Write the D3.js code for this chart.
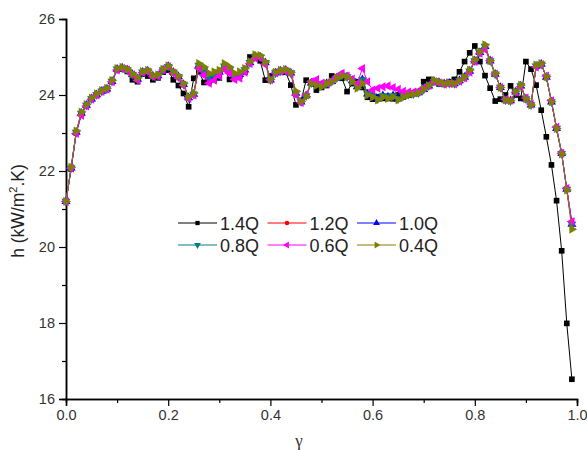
<!DOCTYPE html>
<html><head><meta charset="utf-8">
<script src="https://cdn.jsdelivr.net/npm/d3@7"></script>
<style>html,body{margin:0;padding:0;background:#fff;}svg{display:block;}</style>
</head><body>
<svg id="chart" width="587" height="450"></svg>
<script>
// gamma values 0.00 .. 0.99
const gammaVals = d3.range(100).map(i => i / 100);

const h14 = [21.2,22.05,23.0,23.5,23.72,23.9,24.0,24.1,24.15,24.35,
24.66,24.68,24.62,24.4,24.35,24.55,24.5,24.4,24.45,24.6,
24.65,24.4,24.25,24.04,23.69,24.44,24.61,24.33,24.35,24.4,
24.45,24.7,24.41,24.45,24.5,24.6,25.0,24.98,24.9,24.39,
24.5,24.61,24.62,24.6,24.26,23.74,23.85,24.39,24.3,24.13,
24.2,24.25,24.5,24.48,24.44,24.09,24.3,24.35,24.2,23.94,
23.89,23.95,23.91,23.91,23.9,24.0,23.95,24.0,24.05,24.09,
24.35,24.41,24.35,24.29,24.3,24.35,24.41,24.61,24.88,25.11,
25.29,24.88,24.51,24.18,23.84,23.89,24.0,24.24,24.0,23.91,
24.88,24.68,24.26,23.6,22.9,22.16,21.22,19.9,17.99,16.52];

const h12 = [21.2,22.08,23.02,23.52,23.73,23.9,24.01,24.1,24.16,24.36,
24.68,24.71,24.66,24.54,24.42,24.6,24.63,24.5,24.51,24.66,
24.75,24.6,24.48,24.28,23.93,24.02,24.78,24.65,24.47,24.52,
24.6,24.76,24.66,24.5,24.54,24.66,24.85,25.02,25.0,24.85,
24.4,24.58,24.63,24.65,24.58,24.05,23.82,23.98,24.32,24.3,
24.25,24.3,24.36,24.45,24.52,24.48,24.38,24.22,24.4,24.03,
23.98,23.9,23.98,23.95,23.98,23.9,23.98,24.02,24.03,24.06,
24.15,24.24,24.36,24.33,24.3,24.31,24.3,24.38,24.47,24.63,
24.9,25.12,25.28,24.9,24.55,24.2,23.87,23.85,24.08,24.24,
23.9,23.74,24.76,24.81,24.47,23.82,23.12,22.46,21.52,20.6];

const h10 = [21.2,22.08,23.02,23.52,23.73,23.9,24.01,24.1,24.16,24.36,
24.68,24.71,24.66,24.54,24.42,24.6,24.63,24.5,24.51,24.66,
24.75,24.6,24.48,24.28,23.93,24.02,24.78,24.65,24.47,24.52,
24.6,24.76,24.66,24.5,24.54,24.66,24.85,25.02,25.0,24.85,
24.4,24.58,24.63,24.65,24.58,24.05,23.82,23.98,24.32,24.3,
24.25,24.3,24.36,24.45,24.52,24.48,24.38,24.22,24.4,24.03,
23.98,23.9,23.98,23.95,23.98,23.9,23.98,24.02,24.03,24.06,
24.15,24.24,24.36,24.33,24.3,24.31,24.3,24.38,24.47,24.63,
24.9,25.12,25.28,24.9,24.55,24.2,23.87,23.85,24.08,24.24,
23.9,23.74,24.76,24.81,24.47,23.82,23.12,22.46,21.52,20.6];

const h08 = [21.2,22.08,23.02,23.52,23.73,23.9,24.01,24.1,24.16,24.36,
24.68,24.71,24.66,24.54,24.42,24.6,24.63,24.5,24.51,24.66,
24.75,24.6,24.48,24.28,23.93,24.02,24.78,24.65,24.47,24.52,
24.6,24.76,24.66,24.5,24.54,24.66,24.85,25.02,25.0,24.85,
24.4,24.58,24.63,24.65,24.58,24.05,23.82,23.98,24.32,24.3,
24.25,24.3,24.36,24.45,24.52,24.48,24.38,24.22,24.4,24.03,
23.98,23.9,23.98,23.95,23.98,23.9,23.98,24.02,24.03,24.06,
24.15,24.24,24.36,24.33,24.3,24.31,24.3,24.38,24.47,24.63,
24.9,25.12,25.28,24.9,24.55,24.2,23.87,23.85,24.08,24.24,
23.9,23.74,24.76,24.81,24.47,23.82,23.12,22.46,21.52,20.6];

const h06 = [21.2,22.07,22.99,23.47,23.71,23.89,24.0,24.09,24.15,24.35,
24.66,24.7,24.66,24.53,24.39,24.59,24.61,24.48,24.5,24.66,
24.75,24.58,24.45,24.26,23.91,24.0,24.7,24.52,24.31,24.39,
24.5,24.67,24.57,24.41,24.44,24.6,24.83,24.97,24.98,24.8,
24.4,24.58,24.62,24.63,24.55,24.0,23.8,24.0,24.35,24.41,
24.31,24.3,24.38,24.48,24.57,24.5,24.42,24.3,24.7,24.35,
24.13,24.18,24.22,24.24,24.2,24.15,24.1,24.08,24.08,24.1,
24.18,24.25,24.35,24.32,24.28,24.3,24.29,24.36,24.45,24.6,
24.88,25.1,25.2,24.9,24.55,24.2,23.88,23.86,24.07,24.22,
23.92,23.76,24.74,24.8,24.5,23.85,23.15,22.47,21.54,20.67];

const h04 = [21.2,22.1,23.05,23.55,23.75,23.92,24.03,24.12,24.18,24.38,
24.7,24.73,24.68,24.56,24.45,24.62,24.65,24.52,24.53,24.68,
24.77,24.62,24.5,24.3,23.95,24.05,24.83,24.74,24.57,24.61,
24.65,24.83,24.74,24.57,24.61,24.7,24.88,25.06,25.04,24.87,
24.41,24.6,24.65,24.67,24.6,24.1,23.83,23.96,24.3,24.25,
24.22,24.3,24.35,24.45,24.5,24.48,24.35,24.18,24.3,24.0,
23.95,23.87,23.95,23.91,23.95,23.87,23.95,24.0,24.02,24.05,
24.15,24.25,24.39,24.35,24.3,24.32,24.3,24.38,24.48,24.66,
24.92,25.14,25.32,24.9,24.57,24.2,23.87,23.85,24.09,24.26,
23.9,23.74,24.79,24.83,24.48,23.82,23.12,22.45,21.5,20.47];

const seriesNames = ["1.4Q","1.2Q","1.0Q","0.8Q","0.6Q","0.4Q"];
const seriesValues = [h14,h12,h10,h08,h06,h04];
const seriesColors = ["#000000","#ff0000","#0000ff","#008080","#ff00ff","#808000"];
const seriesSymbols = ["square","circle","up","down","left","right"];

const xTicks = [0,0.2,0.4,0.6,0.8,1.0];
const xTickLabels = ["0.0","0.2","0.4","0.6","0.8","1.0"];
const xMinorTicks = [0.1,0.3,0.5,0.7,0.9];
const yTicks = [16,18,20,22,24,26];
const yMinorTicks = [17,19,21,23,25];

const svg = d3.select("#chart");
const x = d3.scaleLinear().domain([0,1]).range([66,577]);
const y = d3.scaleLinear().domain([16,26]).range([399,19]);
const FONT = "'Liberation Sans', Arial, sans-serif";

// axes
const xAxis = d3.axisBottom(x).tickValues(xTicks).tickFormat((d,i)=>xTickLabels[i]).tickSize(7).tickPadding(4);
const xMinor = d3.axisBottom(x).tickValues(xMinorTicks).tickFormat("").tickSize(4);
const yAxis = d3.axisLeft(y).tickValues(yTicks).tickFormat(d3.format("d")).tickSize(7).tickPadding(4);
const yMinor = d3.axisLeft(y).tickValues(yMinorTicks).tickFormat("").tickSize(4);

function styleAxis(g){
  g.select(".domain").attr("stroke","#000").attr("stroke-width",1.5);
  g.selectAll(".tick line").attr("stroke","#000").attr("stroke-width",1.2);
  g.selectAll(".tick text").attr("fill","#333").style("font-family",FONT).style("font-size","14.5px");
}
svg.append("g").attr("transform","translate(0,399)").call(xMinor).call(styleAxis);
svg.append("g").attr("transform","translate(0,399)").call(xAxis).call(styleAxis);
svg.append("g").attr("transform","translate(66,0)").call(yMinor).call(styleAxis);
svg.append("g").attr("transform","translate(66,0)").call(yAxis).call(styleAxis);

// axis titles
svg.append("text").attr("x",299).attr("y",446).attr("text-anchor","middle")
  .style("font-family","'Liberation Serif','Times New Roman',serif").style("font-size","17px").attr("fill","#333").text("γ");
const yl = svg.append("text").attr("transform","translate(24,211) rotate(-90)").attr("text-anchor","middle")
  .style("font-family",FONT).style("font-size","17.5px").attr("fill","#222");
yl.append("tspan").text("h (kW/m");
yl.append("tspan").attr("dy",-7).style("font-size","11px").text("2");
yl.append("tspan").attr("dy",7).text(".K)");

function symPath(kind, size){
  if(kind==="square") return {d:d3.symbol(d3.symbolSquare,size)(), r:0};
  if(kind==="circle") return {d:d3.symbol(d3.symbolCircle,size*0.9)(), r:0};
  const t = d3.symbol(d3.symbolTriangle,size*1.1)();
  const r = {up:0,down:180,left:-90,right:90}[kind];
  return {d:t, r:r};
}

const line = d3.line().x((d,i)=>x(gammaVals[i])).y(d=>y(d));
seriesValues.forEach((vals,k)=>{
  const g = svg.append("g");
  g.append("path").datum(vals).attr("d",line).attr("fill","none")
    .attr("stroke",seriesColors[k]).attr("stroke-width",1);
  const s = symPath(seriesSymbols[k], 32);
  g.selectAll("path.m").data(vals).enter().append("path").attr("class","m")
    .attr("d",s.d).attr("fill",seriesColors[k])
    .attr("transform",(d,i)=>`translate(${x(gammaVals[i])},${y(d)}) rotate(${s.r})`);
});

// legend
const legX = [178,267.5,357];
const legY = [223,245];
seriesNames.forEach((name,k)=>{
  const lx = legX[k%3], ly = legY[Math.floor(k/3)];
  const g = svg.append("g");
  g.append("line").attr("x1",lx).attr("x2",lx+39).attr("y1",ly).attr("y2",ly)
    .attr("stroke",seriesColors[k]).attr("stroke-width",1);
  const s = symPath(seriesSymbols[k], 18);
  g.append("path").attr("d",s.d).attr("fill",seriesColors[k])
    .attr("transform",`translate(${lx+19.5},${ly}) rotate(${s.r})`);
  g.append("text").attr("x",lx+42).attr("y",ly+6.5).style("font-family",FONT)
    .style("font-size","18px").attr("fill","#222").text(name);
});
</script>
</body></html>
